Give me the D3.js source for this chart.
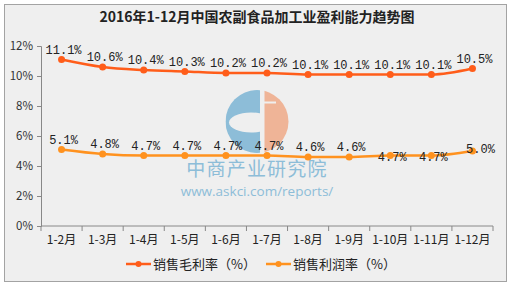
<!DOCTYPE html>
<html>
<head>
<meta charset="utf-8">
<script src="https://cdn.jsdelivr.net/npm/d3@7"></script>
<style>
  body { margin: 0; background: #fff; }
</style>
</head>
<body>
<div class="chart"></div>
<script>
const months = ["1-2月","1-3月","1-4月","1-5月","1-6月","1-7月","1-8月","1-9月","1-10月","1-11月","1-12月"];
const grossMargin = [11.1, 10.6, 10.4, 10.3, 10.2, 10.2, 10.1, 10.1, 10.1, 10.1, 10.5];
const profitMargin = [5.1, 4.8, 4.7, 4.7, 4.7, 4.7, 4.6, 4.6, 4.7, 4.7, 5.0];
const yTicks = [0, 2, 4, 6, 8, 10, 12];
const seriesNames = ["销售毛利率（%）", "销售利润率（%）"];
const title = "2016年1-12月中国农副食品加工业盈利能力趋势图";

const W = 514, H = 287;
const margin = {top: 46, left: 41, right: 21, bottom: 61};
const width = W - margin.left - margin.right;
const height = H - margin.top - margin.bottom;
const colors = ["#ff5d1a", "#ff921f"];
const cjk = "SimSun, 'Noto Sans CJK SC', sans-serif";

const svg = d3.select(".chart").append("svg")
  .attr("width", W).attr("height", H)
  .style("font-family", cjk);

// background frame
svg.append("rect")
  .attr("x", 4.5).attr("y", 4.5)
  .attr("width", 502).attr("height", 277)
  .attr("fill", "#efefef").attr("stroke", "#a3a3a3");

svg.append("text")
  .attr("x", 257).attr("y", 22)
  .attr("text-anchor", "middle")
  .attr("font-size", 14).attr("font-weight", "bold")
  .attr("fill", "#222")
  .text(title);

const g = svg.append("g")
  .attr("transform", `translate(${margin.left},${margin.top})`);

const x = d3.scaleBand().domain(months).range([0, width]);
const y = d3.scaleLinear().domain([0, 12]).range([height, 0]);

// watermark logo
const cx = 216, cy = 75.5, r = 31.5;
const wm = g.append("g");
wm.append("clipPath").attr("id", "cl").append("rect")
  .attr("x", cx - r).attr("y", cy - r).attr("width", r + 3).attr("height", 2 * r);
wm.append("clipPath").attr("id", "cr").append("rect")
  .attr("x", cx + 7.5).attr("y", cy - r).attr("width", r).attr("height", 2 * r);
wm.append("circle").attr("cx", cx).attr("cy", cy).attr("r", r)
  .attr("fill", "#8dbdd8").attr("clip-path", "url(#cl)");
wm.append("ellipse").attr("cx", cx - 6).attr("cy", cy + 1).attr("rx", 22).attr("ry", 10)
  .attr("fill", "#efefef").attr("clip-path", "url(#cl)");
wm.append("circle").attr("cx", cx).attr("cy", cy).attr("r", r)
  .attr("fill", "#efb497").attr("clip-path", "url(#cr)");
wm.append("rect").attr("x", cx + 7).attr("y", cy - 20).attr("width", 12).attr("height", 2)
  .attr("fill", "#efefef");
wm.append("text")
  .attr("x", 216).attr("y", 130)
  .attr("text-anchor", "middle")
  .attr("font-size", 19).attr("letter-spacing", 1.2)
  .style("font-family", "'Noto Sans CJK SC', sans-serif")
  .attr("fill", "#8dbdd8")
  .text("中商产业研究院");
wm.append("text")
  .attr("x", 216).attr("y", 150)
  .attr("text-anchor", "middle")
  .attr("font-size", 13.5)
  .style("font-family", "'Open Sans', sans-serif")
  .attr("fill", "#8dbdd8")
  .text("www.askci.com/reports/");

// axes
const yAxis = d3.axisLeft(y).tickValues(yTicks).tickSize(4).tickFormat(d => d + "%");
const yg = g.append("g").call(yAxis);
yg.select(".domain").attr("stroke", "#888");
yg.selectAll(".tick line").attr("stroke", "#888");
yg.selectAll(".tick text").attr("font-size", 11.5).attr("fill", "#333")
  .style("font-family", cjk).attr("x", -8);

const xg = g.append("g").attr("transform", `translate(0,${height})`);
xg.append("line").attr("x1", 0).attr("x2", width).attr("stroke", "#888");
xg.selectAll(".tk").data(months.concat([null])).enter().append("line")
  .attr("x1", (d, i) => i * x.bandwidth()).attr("x2", (d, i) => i * x.bandwidth())
  .attr("y1", 0).attr("y2", 5).attr("stroke", "#888");
xg.selectAll(".lbl").data(months).enter().append("text")
  .attr("x", d => x(d) + x.bandwidth() / 2).attr("y", 18)
  .attr("text-anchor", "middle").attr("font-size", 12).attr("fill", "#222")
  .text(d => d);

// lines
const series = [grossMargin, profitMargin];
const line = d3.line()
  .x((d, i) => x(months[i]) + x.bandwidth() / 2)
  .y(d => y(d))
  .curve(d3.curveMonotoneX);

series.forEach((vals, s) => {
  g.append("path").datum(vals)
    .attr("d", line).attr("fill", "none")
    .attr("stroke", colors[s]).attr("stroke-width", 2.5);
  g.selectAll(".pt" + s).data(vals).enter().append("circle")
    .attr("cx", (d, i) => x(months[i]) + x.bandwidth() / 2)
    .attr("cy", d => y(d)).attr("r", 3.5)
    .attr("fill", colors[s]);
  g.selectAll(".lb" + s).data(vals).enter().append("text")
    .attr("x", (d, i) => x(months[i]) + x.bandwidth() / 2 + (s === 1 && i === 10 ? 8 : 2))
    .attr("y", (d, i) => {
      if (s === 1 && (i === 8 || i === 9)) return y(d) + 5;
      if (s === 1 && i === 10) return y(d) + 2;
      return y(d) - 6;
    })
    .attr("text-anchor", "middle")
    .attr("font-size", 12).attr("fill", "#222")
    .style("font-family", "'Liberation Mono', monospace")
    .text(d => d.toFixed(1) + "%");
});

// legend
const legend = svg.append("g").attr("transform", "translate(126,264)");
seriesNames.forEach((name, s) => {
  const lg = legend.append("g").attr("transform", `translate(${s * 140},0)`);
  lg.append("line").attr("x1", 0).attr("x2", 25).attr("stroke", colors[s]).attr("stroke-width", 2.5);
  lg.append("circle").attr("cx", 12.5).attr("r", 3).attr("fill", colors[s]);
  lg.append("text").attr("x", 27).attr("y", 5).attr("font-size", 13).attr("fill", "#222").text(name);
});
</script>
</body>
</html>
